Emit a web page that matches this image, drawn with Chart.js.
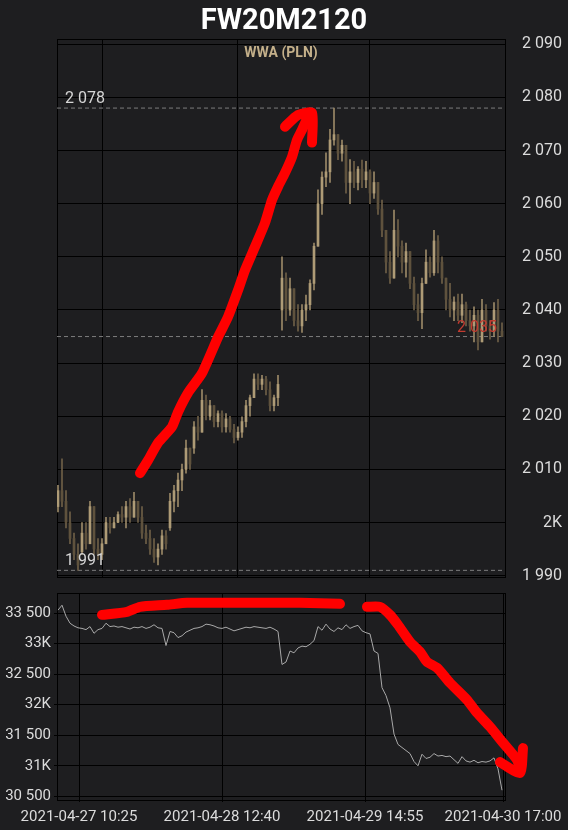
<!DOCTYPE html>
<html>
<head>
<meta charset="utf-8">
<script src="https://cdn.jsdelivr.net/npm/chart.js@4.4.1/dist/chart.umd.min.js"></script>
<style>
  body { margin: 0; background: #1e1e20; }
  #wrap { position: relative; width: 568px; height: 830px; }
  #top { position: absolute; left: 0; top: 0; width: 568px; height: 590px; }
  #bottom { position: absolute; left: 0; top: 590px; width: 568px; height: 240px; }
</style>
</head>
<body>
<div id="wrap">
  <div id="top"><canvas id="priceChart"></canvas></div>
  <div id="bottom"><canvas id="volChart"></canvas></div>
</div>
<script>
var title = "FW20M2120";
var subtitle = "WWA (PLN)";

// candles, one per bar index
var high = [2007, 2012, 2006, 2002, 1998, 1996, 2000, 2000, 2004, 2003,
  1997, 1997, 2001, 2001, 2001, 2002, 2003, 2004, 2004.5, 2005.7,
  2004, 2003, 1999.5, 1998.6, 1997, 1996, 1998.6, 1998.5, 2005.5, 2007,
  2009.3, 2011, 2015.5, 2014, 2019, 2020, 2025, 2024, 2023, 2022,
  2021, 2021, 2020.5, 2020, 2018.5, 2018, 2019.9, 2023, 2024, 2028,
  2028, 2027.7, 2027.5, 2026.5, 2024, 2027.7, 2050, 2047, 2046, 2044,
  2041, 2041, 2042.8, 2045.7, 2052.6, 2062.6, 2066, 2069.6, 2074, 2078,
  2073, 2072, 2071, 2068.3, 2068, 2067, 2068.2, 2068, 2066.4, 2066,
  2064, 2060.7, 2055, 2051, 2058.8, 2057, 2053, 2052.6, 2051, 2046.2,
  2043, 2046, 2051.3, 2050, 2055, 2054, 2050, 2046, 2045, 2042.5,
  2043, 2043, 2041.5, 2040, 2040.6, 2040, 2042, 2041, 2038, 2041.4,
  2042, 2037.6];
var low = [2002, 2003, 1999, 1996, 1993, 1991, 1994, 1995, 1996, 1994,
  1993, 1993, 1996, 1998, 1999, 2000, 2000, 1999, 2000, 2001,
  2000, 1997, 1996, 1994, 1992.5, 1992, 1994, 1995, 1998.5, 2002,
  2003, 2006, 2009.3, 2010, 2013, 2015.5, 2017, 2019.3, 2019.3, 2018,
  2018, 2017, 2017, 2017, 2015, 2015.5, 2016, 2018, 2020, 2023.5,
  2025, 2025, 2024, 2021, 2021, 2022, 2036.2, 2038, 2039, 2037,
  2036, 2035.8, 2038, 2040, 2043.8, 2052, 2058, 2063.2, 2064, 2071,
  2068.3, 2068, 2062, 2060, 2063, 2062.6, 2063, 2063, 2060, 2061,
  2058, 2053.8, 2047, 2045, 2046, 2050, 2047, 2046.2, 2044, 2040,
  2038, 2036.5, 2045, 2046.2, 2046.5, 2047, 2045, 2040, 2038.7, 2038,
  2038, 2037.6, 2037, 2036, 2034, 2032.5, 2034, 2036, 2034.5, 2035,
  2034, 2035];
var open = [2003, 2006, 2004, 2000, 1997, 1994, 1994.5, 1998, 1996, 2003,
  1995, 1994, 1996, 2000, 1999, 2000, 2001.5, 2001, 2003, 2001,
  2004, 2001, 1998, 1997, 1995, 1993.5, 1995, 1997.5, 1999, 2004,
  2006, 2008, 2010, 2014, 2014, 2018, 2017, 2023, 2020, 2022,
  2019, 2020.5, 2018, 2019.5, 2017.5, 2016, 2017, 2019, 2022, 2023.5,
  2027, 2026, 2027, 2025, 2022, 2023.5, 2040, 2046, 2040, 2044,
  2038, 2037, 2040, 2041, 2045, 2052, 2060, 2065, 2066, 2072,
  2073, 2069.5, 2071, 2064, 2066, 2064, 2066.5, 2064.5, 2066, 2062,
  2064, 2059, 2055, 2049, 2046, 2055, 2052, 2049, 2051, 2045,
  2041, 2039.5, 2045, 2049, 2047, 2053, 2049, 2046, 2042, 2040,
  2041.5, 2039, 2041, 2038, 2037, 2039, 2034, 2040, 2037, 2036,
  2040, 2036];
var close = [2006, 2004, 2000, 1997, 1994, 1992, 1998, 1996, 2003, 1995,
  1994, 1996, 2000, 1999, 2000, 2001.5, 2001, 2003, 2001, 2004,
  2001, 1998, 1997, 1995, 1993.5, 1995, 1997.5, 1996, 2004, 2006,
  2008, 2010, 2014, 2011, 2018, 2017, 2023, 2020, 2022, 2019,
  2020.5, 2018, 2019.5, 2017.5, 2016, 2017, 2019, 2022, 2023.5, 2027,
  2026, 2027, 2025, 2022, 2023.5, 2026, 2046, 2040, 2044, 2038,
  2037, 2040, 2041, 2045, 2052, 2060, 2065, 2066, 2072, 2073,
  2069.5, 2071, 2064, 2066, 2064, 2066.5, 2064.5, 2066, 2062, 2064,
  2059, 2055, 2049, 2046, 2055, 2052, 2049, 2051, 2045, 2041,
  2039.5, 2045, 2049, 2047, 2053, 2049, 2046, 2042, 2040, 2041.5,
  2039, 2041, 2038, 2037, 2039, 2034, 2040, 2037, 2036, 2040,
  2036, 2035];

// lower panel line
var lower = [33550, 33630, 33450, 33335, 33290, 33260, 33250, 33230, 33280, 33170,
  33230, 33250, 33335, 33280, 33290, 33270, 33280, 33260, 33240, 33270,
  33260, 33280, 33250, 33270, 33310, 33260, 33250, 32970, 33200, 33180,
  33100, 33130, 33190, 33220, 33250, 33260, 33280, 33320, 33310, 33290,
  33260, 33250, 33270, 33240, 33210, 33230, 33250, 33270, 33260, 33280,
  33270, 33260, 33250, 33270, 33240, 33200, 32660, 32700, 32880, 32850,
  32930, 32960, 32950, 32990, 33050, 33280, 33220, 33320, 33240, 33200,
  33260, 33230, 33310, 33250, 33280, 33300, 33210, 33180, 33160, 32880,
  32840, 32280, 32150, 31950, 31520, 31350, 31300, 31250, 31200, 31070,
  31000, 31190, 31120, 31140, 31200, 31160, 31170, 31150, 31160, 31100,
  31040, 31150, 31080, 31060, 31090, 31050, 31070, 31060, 31080, 31130,
  30950, 30600];

var priceTicks = [1990, 2000, 2010, 2020, 2030, 2040, 2050, 2060, 2070, 2080, 2090];
var lowerTicks = [30500, 31000, 31500, 32000, 32500, 33000, 33500];
var topGridIdx = [11, 44.75, 77.75];
var timeTickIdx = [5.25, 41, 76.75, 111.25];
var timeTickLabels = ["2021-04-27 10:25", "2021-04-28 12:40", "2021-04-29 14:55", "2021-04-30 17:00"];

// red hand-drawn marks, in data units (bar index, value)
var upArrowX = [20.5, 22.5, 25, 28.5, 30, 32.5, 36, 40, 42.5, 45, 46.75, 49.25, 51.75, 53.5, 55, 56.75, 58.5, 59.75, 61, 62.5];
var upArrowY = [2009.3, 2011.7, 2015, 2018, 2020.8, 2024.4, 2028.1, 2034.9, 2038.7, 2043.7, 2047.5, 2051.9, 2056.4, 2060.7, 2063.2, 2065.8, 2068.8, 2072, 2073.9, 2076.4];
var upHeadX = [56.75, 60, 63.5, 63.5];
var upHeadY = [2074.5, 2076.7, 2077.1, 2071.5];
var flatX = [11, 17.25, 20.5, 27.25, 32.25, 48, 60.5, 70.5];
var flatY = [33472, 33521, 33603, 33636, 33669, 33669, 33669, 33652];
// traced from the tip back, so points past the axis end are kept
var downX = [115.5, 114.75, 111.25, 108, 104.75, 102.25, 98, 94.75, 92.25, 90.5, 88, 85, 83, 80.5, 77.25];
var downY = [30936, 31099, 31378, 31639, 31868, 32081, 32359, 32605, 32703, 32867, 33030, 33308, 33472, 33603, 33603];
var downHeadX = [116.25, 115.5, 110.5];
var downHeadY = [31290, 30881, 31061];

var idx = high.map(function (v, i) { return i; });
var xMin = -0.25, xMax = high.length - 0.25;
var maxPrice = Math.max.apply(null, high);
var minPrice = Math.min.apply(null, low);
var lastPrice = close[close.length - 1];

function fmt(v) {
  if (v % 1000 === 0) return (v / 1000) + 'K';
  return String(v).replace(/\B(?=(\d{3})+(?!\d))/g, ' ');
}
function pts(xs, ys) {
  return xs.map(function (x, i) { return {x: x, y: ys[i]}; });
}
function hline(v) {
  return [{x: xMin, y: v}, {x: xMax, y: v}];
}
function redStroke(xs, ys) {
  return {type: 'line', data: pts(xs, ys), borderColor: '#ff0000', borderWidth: 10,
    borderCapStyle: 'round', borderJoinStyle: 'round', pointRadius: 0, tension: 0.2,
    clip: false, order: -1};
}
function dashed(v) {
  return {type: 'line', data: hline(v), borderColor: '#7d7d7d', borderWidth: 1,
    borderDash: [4, 3], pointRadius: 0, order: 3};
}

var upCol = '#ae9b76', downCol = '#5f523d';
var barCols = idx.map(function (i) { return close[i] >= open[i] ? upCol : downCol; });
var wickCols = idx.map(function (i) { return close[i] >= open[i] ? '#9a8867' : '#6e5f47'; });

var font = {family: 'Roboto', size: 16};
Chart.defaults.font.family = 'Roboto';
Chart.defaults.color = '#dcdcdc';

var frame = {
  id: 'frame',
  beforeDatasetsDraw: function (chart) {
    var a = chart.chartArea, c = chart.ctx;
    c.save();
    c.strokeStyle = '#000';
    c.lineWidth = 1;
    c.strokeRect(Math.round(a.left) + 0.5, Math.round(a.top) + 0.5, Math.round(a.right - a.left), Math.round(a.bottom - a.top));
    c.restore();
  }
};

var headings = {
  id: 'headings',
  afterDraw: function (chart) {
    var c = chart.ctx, a = chart.chartArea, y = chart.scales.y;
    c.save();
    c.textBaseline = 'middle';
    c.textAlign = 'center';
    c.fillStyle = '#ffffff';
    c.font = 'bold 29px Roboto';
    c.fillText(title, chart.width / 2, 22);
    c.fillStyle = '#c4b08a';
    c.font = 'bold 14px Roboto';
    c.fillText(subtitle, (a.left + a.right) / 2, 53);
    c.font = '16px Roboto';
    c.textBaseline = 'bottom';
    c.textAlign = 'left';
    c.fillStyle = '#d6d6d6';
    c.fillText(fmt(maxPrice), a.left + 8, y.getPixelForValue(maxPrice) - 1);
    c.fillText(fmt(minPrice), a.left + 8, y.getPixelForValue(minPrice) - 1);
    c.textAlign = 'right';
    c.fillStyle = '#c23b30';
    c.fillText(fmt(lastPrice), a.right - 8, y.getPixelForValue(lastPrice) - 1);
    c.restore();
  }
};

new Chart(document.getElementById('priceChart'), {
  data: {
    datasets: [
      dashed(maxPrice), dashed(minPrice), dashed(lastPrice),
      {type: 'bar', data: idx.map(function (i) { return {x: i, y: [low[i], high[i]]}; }),
        backgroundColor: wickCols, barThickness: 1, grouped: false, order: 2},
      {type: 'bar', data: idx.map(function (i) { return {x: i, y: [open[i], close[i]]}; }),
        backgroundColor: barCols, barThickness: 2, minBarLength: 1, grouped: false, order: 1},
      redStroke(upArrowX, upArrowY),
      redStroke(upHeadX, upHeadY)
    ]
  },
  options: {
    responsive: true,
    maintainAspectRatio: false,
    animation: false,
    layout: {padding: {left: 57, top: 39, right: 6, bottom: 13}},
    plugins: {legend: {display: false}, tooltip: {enabled: false}},
    scales: {
      x: {
        type: 'linear', min: xMin, max: xMax, offset: false,
        grid: {color: '#000', drawTicks: false, offset: false},
        border: {display: false},
        ticks: {display: false},
        afterBuildTicks: function (s) { s.ticks = topGridIdx.map(function (v) { return {value: v}; }); },
        afterFit: function (s) { s.height = 0; }
      },
      y: {
        position: 'right', min: 1989.75, max: 2091, beginAtZero: false,
        grid: {color: '#000', drawTicks: false},
        border: {display: true, color: '#000'},
        ticks: {font: font, color: '#dcdcdc', crossAlign: 'far', callback: function (v) { return fmt(v); }},
        afterBuildTicks: function (s) { s.ticks = priceTicks.map(function (v) { return {value: v}; }); },
        afterFit: function (s) { s.width = 57; }
      }
    }
  },
  plugins: [frame, headings]
});

new Chart(document.getElementById('volChart'), {
  data: {
    datasets: [
      {type: 'line', data: pts(idx, lower), borderColor: '#a9a9a9', borderWidth: 1,
        pointRadius: 0, tension: 0, order: 2},
      redStroke(flatX, flatY),
      redStroke(downX, downY),
      redStroke(downHeadX, downHeadY)
    ]
  },
  options: {
    responsive: true,
    maintainAspectRatio: false,
    animation: false,
    layout: {padding: {left: 0, top: 3, right: 63, bottom: 0}},
    plugins: {legend: {display: false}, tooltip: {enabled: false}},
    scales: {
      x: {
        type: 'linear', min: xMin, max: xMax,
        grid: {color: '#000', tickLength: 2},
        border: {display: false},
        ticks: {font: {family: 'Roboto', size: 15}, color: '#dcdcdc', padding: 6, maxRotation: 0, autoSkip: false,
          callback: function (v, i) { return timeTickLabels[i]; }},
        afterBuildTicks: function (s) { s.ticks = timeTickIdx.map(function (v) { return {value: v}; }); },
        afterFit: function (s) { s.height = 30; }
      },
      y: {
        position: 'left', min: 30440, max: 33830,
        grid: {color: '#000', tickLength: 3},
        border: {display: false},
        ticks: {font: {family: 'Roboto', size: 15}, color: '#dcdcdc', padding: 3, callback: function (v) { return fmt(v); }},
        afterBuildTicks: function (s) { s.ticks = lowerTicks.map(function (v) { return {value: v}; }); },
        afterFit: function (s) { s.width = 57; s.paddingTop = 0; s.paddingBottom = 0; }
      }
    }
  },
  plugins: [frame]
});
</script>
</body>
</html>
